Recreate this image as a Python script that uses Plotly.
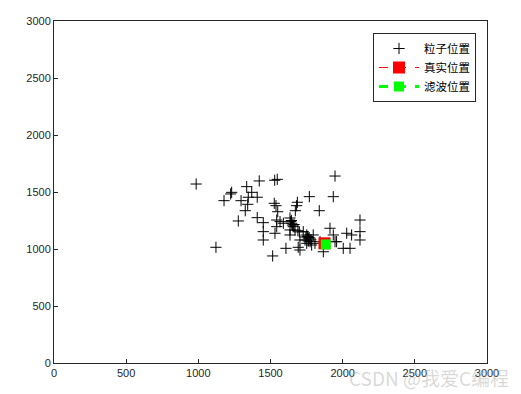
import plotly.graph_objects as go

# particle positions (x, y)
particle_x = [985, 1947, 1422, 1529, 1547, 1335, 1231, 1224, 1370, 1178, 1296, 1346, 1408, 1342, 1325,
              1769, 1935, 1526, 1538, 1686, 1681, 1672, 1550, 1838, 1277, 1408, 1450, 1450, 1450,
              1543, 1566, 1589, 1635, 1647, 1658, 1670, 1635, 1543, 1531, 1635, 1122, 1515, 1607,
              1704, 1692, 1704, 1727, 1751, 1762, 1739, 1774, 1751, 1785, 1796, 1808, 1843, 1866,
              1912, 1935, 1947, 2120, 2028, 2062, 2120, 2120, 2004, 2051, 1958,
              1640, 1652, 1663, 1645, 1756, 1768, 1745, 1780, 1762, 1700, 1690]
particle_y = [1570, 1640, 1597, 1603, 1611, 1547, 1497, 1483, 1497, 1424, 1424, 1454, 1454, 1392, 1336,
              1459, 1459, 1401, 1380, 1410, 1380, 1336, 1327, 1336, 1246, 1275, 1231, 1152, 1079,
              1254, 1240, 1226, 1272, 1226, 1196, 1167, 1167, 1196, 1138, 1123, 1015, 939, 1006,
              1079, 1015, 991, 1152, 1123, 1094, 1079, 1064, 1050, 1035, 1123, 1050, 1064, 976,
              1182, 1123, 1064, 1254, 1138, 1123, 1152, 1079, 1006, 1006, 1064,
              1240, 1210, 1215, 1250, 1110, 1100, 1105, 1080, 1070, 1150, 1160]

true_x = [1874]
true_y = [1050]
filt_x = [1883]
filt_y = [1040]

x_ticks = [0, 500, 1000, 1500, 2000, 2500, 3000]
y_ticks = [0, 500, 1000, 1500, 2000, 2500, 3000]

cjk = "Noto Sans CJK SC"

fig = go.Figure()
fig.add_trace(go.Scatter(
    x=particle_x, y=particle_y, mode="markers", name="粒子位置",
    marker=dict(symbol="cross-thin", size=8, line=dict(color="black", width=1), color="black"),
))
fig.add_trace(go.Scatter(
    x=true_x, y=true_y, mode="lines+markers", name="真实位置",
    line=dict(color="red", width=1.2, dash="dash"),
    marker=dict(symbol="square", size=12, color="red", line=dict(color="red", width=0)),
))
fig.add_trace(go.Scatter(
    x=filt_x, y=filt_y, mode="lines+markers", name="滤波位置",
    line=dict(color="#00ff00", width=3, dash="dash"),
    marker=dict(symbol="square", size=10, color="#00ff00", line=dict(color="#00ff00", width=0)),
))

axis_common = dict(
    showline=True, mirror=True, linecolor="#262626", linewidth=1,
    ticks="inside", ticklen=4, tickcolor="#262626",
    showgrid=False, zeroline=False,
    tickfont=dict(family="Liberation Sans, Arial", size=11, color="#262626"),
)
fig.update_xaxes(range=[0, 3000], tickvals=x_ticks, ticktext=[str(v) for v in x_ticks], **axis_common)
fig.update_yaxes(range=[0, 3000], tickvals=y_ticks, ticktext=[str(v) for v in y_ticks], **axis_common)

fig.update_layout(
    template="none",
    width=521, height=394,
    margin=dict(l=54, r=34, t=21, b=31),
    paper_bgcolor="white", plot_bgcolor="white",
    font=dict(family="Liberation Sans, Arial", color="#262626"),
    showlegend=True,
    legend=dict(
        x=(476 - 54) / 433, y=(363 - 33) / 342, xanchor="right", yanchor="top",
        bgcolor="white", bordercolor="#262626", borderwidth=1,
        font=dict(family=cjk, size=11.5, color="black"),
        itemwidth=40, tracegroupgap=0,
    ),
    annotations=[dict(
        text="CSDN @我爱C编程", x=(429 - 54) / 433, y=(363 - 377) / 342,
        xref="paper", yref="paper", xanchor="center", yanchor="middle",
        showarrow=False,
        font=dict(family=cjk, size=19, color="rgba(170,170,170,0.45)"),
    )],
)

fig.write_html("out.html")
